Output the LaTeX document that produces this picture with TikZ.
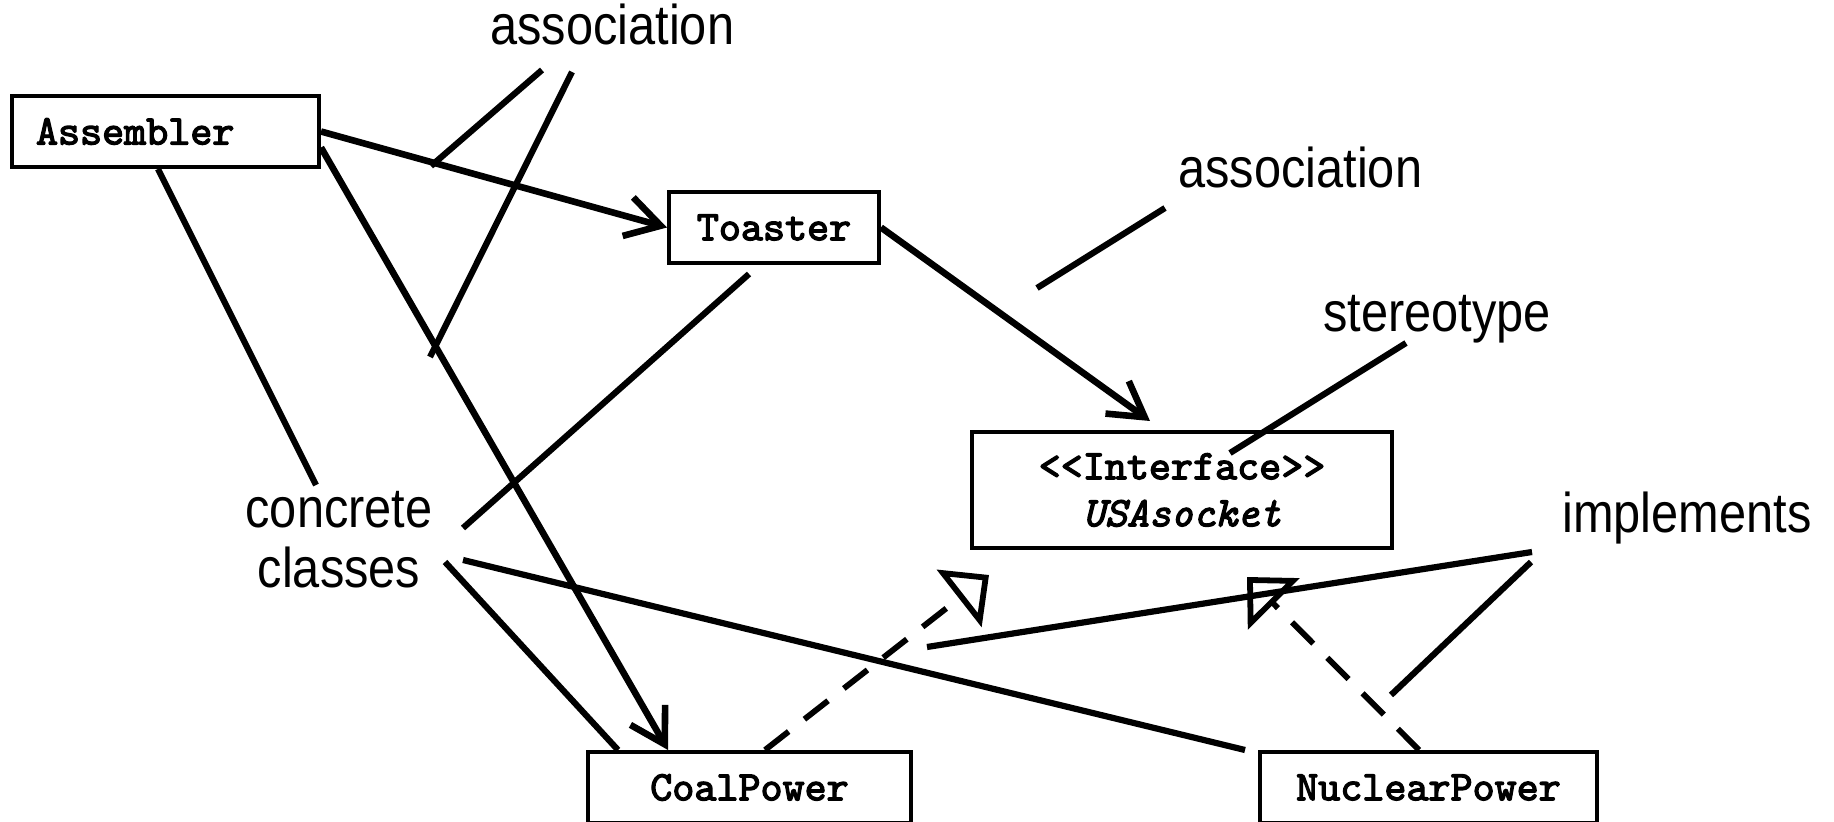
\documentclass[tikz,border=0pt]{standalone}
\usepackage{fontspec}
\newfontfamily\notefont[FakeStretch=0.87]{Liberation Sans}
\newfontfamily\classfont{lmmono10-regular.otf}[FakeBold=3]
\newfontfamily\classitfont{lmmono10-italic.otf}[FakeBold=3]
\usetikzlibrary{arrows.meta}

\tikzstyle{classbox} = [rectangle, draw=black, line width=2pt, inner sep=0pt, minimum height=35.5pt, text centered, font=\fontsize{21}{23.5}\selectfont\classfont]
\tikzstyle{note} = [inner sep=0pt, font=\fontsize{28}{28.5}\selectfont\notefont]
\tikzstyle{arrow} = [line width=3.3pt, -{Straight Barb[length=17pt,width=20pt]}]
\tikzstyle{realize} = [line width=2.9pt, dash pattern=on 15pt off 10pt, -{Triangle[open,length=19pt,width=36pt]}]
\tikzstyle{pointer} = [line width=3.1pt]

\begin{document}
\begin{tikzpicture}[x=0.5pt, y=-0.5pt]
\useasboundingbox (0,0) rectangle (1834,822);

% classes
\node (asm) [classbox, minimum width=153.5pt, text width=129.5pt, align=left] at (165.5,131.5) {Assembler};
\node (toaster) [classbox, minimum width=105pt] at (774,227.5) {Toaster};
\node (socket) [classbox, minimum width=210pt, minimum height=58pt, align=center] at (1182,490) {<<Interface>>\\{\classitfont USAsocket}};
\node (coal) [classbox, minimum width=161.5pt] at (749.5,787.5) {CoalPower};
\node (nuclear) [classbox, minimum width=168.5pt] at (1428.5,787.5) {NuclearPower};

% labels
\node (assocTop) [note, anchor=base west] at (490,45) {association};
\node (assocRight) [note, anchor=base west] at (1178,188) {association};
\node (stereo) [note, anchor=base west] at (1323,332) {stereotype};
\node (impl) [note, anchor=base west] at (1562,533) {implements};
\node (concrete) [note, align=center, anchor=base] at (339,588) {concrete\\[1.5pt]classes};

% free ends of the pointer lines
\coordinate (pA1) at (542,70);   \coordinate (pA1e) at (431,166);
\coordinate (pA2) at (572,72);   \coordinate (pA2e) at (430,357);
\coordinate (pB) at (1165,208);  \coordinate (pBe) at (1037,288);
\coordinate (pS) at (1406,343);  \coordinate (pSe) at (1230,453);
\coordinate (pI1) at (1532,552); \coordinate (pI1e) at (927,647);
\coordinate (pI2) at (1531,562); \coordinate (pI2e) at (1391,695);
\coordinate (pC1) at (316,485);
\coordinate (pC2) at (463,528);
\coordinate (pC3) at (445,562);
\coordinate (pC4) at (463,560);

% associations
\draw [arrow] (asm.east) -- (toaster.west);
\draw [arrow] ([yshift=-8pt]asm.east) -- ([xshift=-40.75pt]coal.north);
\draw [arrow] (toaster.east) -- ([xshift=-16pt,yshift=4.5pt]socket.north);

% implements
\draw [realize] ([xshift=7.75pt]coal.north) -- ([xshift=-96.5pt,yshift=-12.5pt]socket.south);
\draw [realize] ([xshift=-4.75pt]nuclear.north) -- ([xshift=32.5pt,yshift=-13.5pt]socket.south);

% pointers
\draw [pointer] (pA1) -- (pA1e);
\draw [pointer] (pA2) -- (pA2e);
\draw [pointer] (pB) -- (pBe);
\draw [pointer] (pS) -- (pSe);
\draw [pointer] (pI1) -- (pI1e);
\draw [pointer] (pI2) -- (pI2e);
\draw [pointer] (pC1) -- ([xshift=-3.75pt]asm.south);
\draw [pointer] (pC2) -- ([xshift=-12.5pt,yshift=-4.5pt]toaster.south);
\draw [pointer] (pC3) -- ([xshift=-65.75pt]coal.north);
\draw [pointer] (pC4) -- ([xshift=-91.75pt]nuclear.north);

\end{tikzpicture}
\end{document}
